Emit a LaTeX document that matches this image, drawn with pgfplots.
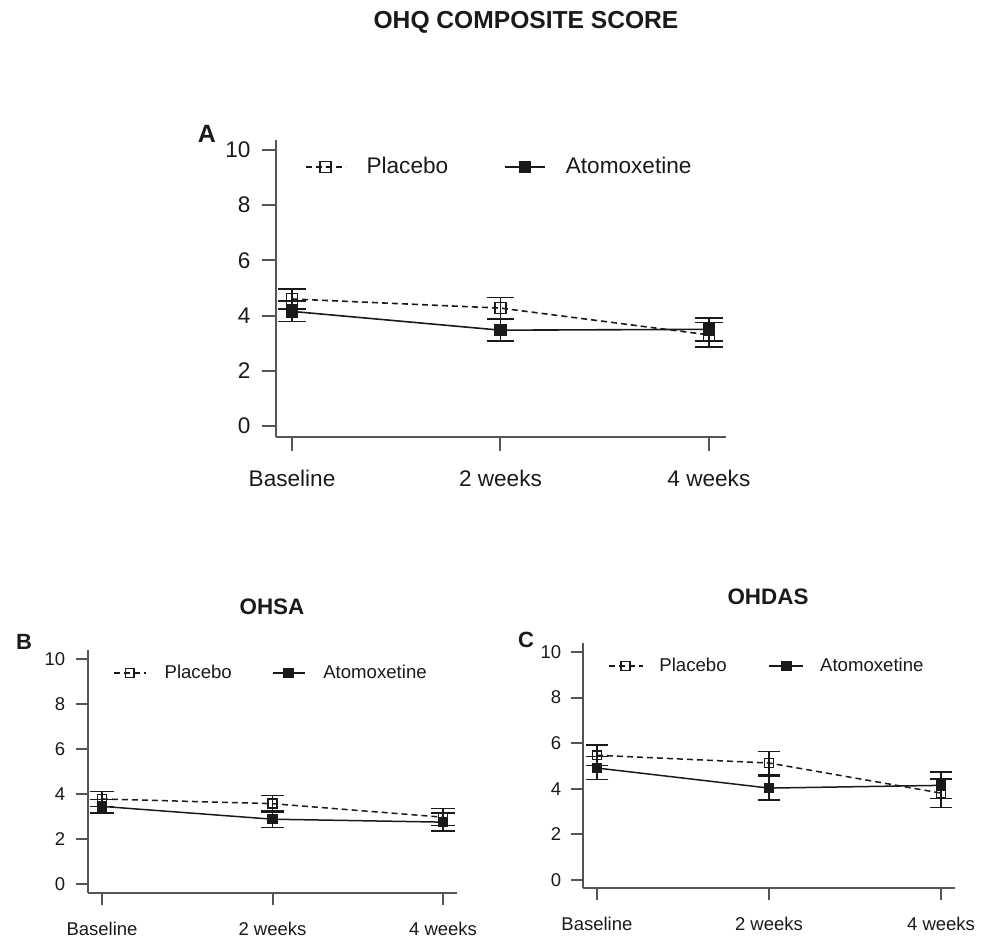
\documentclass[border=0pt]{standalone}
\usepackage{fontspec}
\setmainfont{Liberation Sans}
\usepackage{pgfplots}
\pgfplotsset{compat=1.18}
\definecolor{ink}{HTML}{1A1A1A}
\definecolor{axc}{HTML}{555555}

\pgfplotstableread{
x y e
0 4.60 0.36
1 4.27 0.38
2 3.30 0.45
}\Aplac
\pgfplotstableread{
x y e
0 4.15 0.37
1 3.47 0.40
2 3.50 0.42
}\Aatom
\pgfplotstableread{
x y e
0 3.78 0.33
1 3.57 0.36
2 2.97 0.38
}\Bplac
\pgfplotstableread{
x y e
0 3.45 0.30
1 2.88 0.36
2 2.75 0.40
}\Batom
\pgfplotstableread{
x y e
0 5.47 0.44
1 5.13 0.50
2 3.81 0.62
}\Cplac
\pgfplotstableread{
x y e
0 4.91 0.51
1 4.03 0.52
2 4.15 0.58
}\Catom

\pgfplotsset{
 rstyle/.style={
  scale only axis,
  anchor=south west,
  axis x line*=bottom, axis y line*=left,
  axis line style={axc, line width=1pt},
  tick style={axc, line width=1pt},
  tick align=outside,
  xtick={0,1,2}, xticklabels={Baseline,2 weeks,4 weeks},
  ytick={0,2,4,6,8,10},
  /pgf/number format/assume math mode=true,
  legend style={draw=none, fill=none, inner sep=0pt, outer sep=0pt, anchor=west, legend columns=2, cells={anchor=west}, text=ink},
  legend cell align=left,
  tick label style={text=ink},
 },
 plac/.style={ink, line width=0.8pt, dash pattern=on 3pt off 2pt, mark=square, mark options={solid, line width=0.8pt}},
 atom/.style={ink, line width=0.8pt, mark=square*, mark options={solid, fill=ink}},
}

\begin{document}
\begin{tikzpicture}
\path[use as bounding box] (0,0) rectangle (494.5pt,469pt);

\node[font=\bfseries\fontsize{12.3}{14}\selectfont, text=ink, inner sep=0pt] at (263pt,458pt) {OHQ COMPOSITE SCORE};
\node[font=\bfseries\fontsize{11.2}{13}\selectfont, text=ink, inner sep=0pt] at (136pt,165.5pt) {OHSA};
\node[font=\bfseries\fontsize{11.2}{13}\selectfont, text=ink, inner sep=0pt] at (384pt,170.5pt) {OHDAS};
\node[font=\bfseries\fontsize{12.5}{14}\selectfont, text=ink, inner sep=0pt] at (103.5pt,402pt) {A};
\node[font=\bfseries\fontsize{11}{13}\selectfont, text=ink, inner sep=0pt] at (12pt,148pt) {B};
\node[font=\bfseries\fontsize{11}{13}\selectfont, text=ink, inner sep=0pt] at (263pt,149pt) {C};

% Panel A
\begin{axis}[rstyle, at={(138pt,250.5pt)}, width=225pt, height=148.5pt,
  xmin=-0.077, xmax=2.082, ymin=-0.40, ymax=10.36,
  major tick length=7pt,
  tick label style={font=\fontsize{11.3}{13}\selectfont},
  yticklabel style={xshift=-2.2pt}, xticklabel style={yshift=-6.2pt},
  legend style={at={(0.0644,0.909)}, font=\fontsize{11.3}{13}\selectfont,
    /tikz/every odd column/.append style={column sep=8pt},
    /tikz/every even column/.append style={column sep=26pt}},
  legend image code/.code={\draw[mark repeat=2,mark phase=2,#1] plot coordinates {(0pt,0pt) (10pt,0pt) (20pt,0pt)};},
]
\addplot[plac, mark size=2.75pt, error bars/.cd, y dir=both, y explicit,
  error bar style={solid, line width=0.8pt}, error mark options={rotate=90, mark size=6.85pt, line width=0.8pt, solid}]
  table[x=x, y=y, y error=e] {\Aplac};
\addlegendentry{Placebo}
\addplot[atom, mark size=2.75pt, error bars/.cd, y dir=both, y explicit,
  error bar style={solid, line width=0.8pt}, error mark options={rotate=90, mark size=6.85pt, line width=0.8pt, solid}]
  table[x=x, y=y, y error=e] {\Aatom};
\addlegendentry{Atomoxetine}
\end{axis}

% Panel B
\begin{axis}[rstyle, at={(44pt,22.5pt)}, width=184.5pt, height=121.5pt,
  xmin=-0.082, xmax=2.082, ymin=-0.40, ymax=10.40,
  major tick length=6pt,
  tick label style={font=\fontsize{9.25}{11}\selectfont},
  yticklabel style={xshift=-1.9pt}, xticklabel style={yshift=-5.2pt},
  legend style={at={(0.068,0.905)}, font=\fontsize{9.3}{11}\selectfont,
    /tikz/every odd column/.append style={column sep=7pt},
    /tikz/every even column/.append style={column sep=18pt}},
  legend image code/.code={\draw[mark repeat=2,mark phase=2,#1] plot coordinates {(0pt,0pt) (8pt,0pt) (16pt,0pt)};},
]
\addplot[plac, line width=0.75pt, mark size=2.2pt, error bars/.cd, y dir=both, y explicit,
  error bar style={solid, line width=0.75pt}, error mark options={rotate=90, mark size=5.8pt, line width=0.75pt, solid}]
  table[x=x, y=y, y error=e] {\Bplac};
\addlegendentry{Placebo}
\addplot[atom, line width=0.75pt, mark size=2.2pt, error bars/.cd, y dir=both, y explicit,
  error bar style={solid, line width=0.75pt}, error mark options={rotate=90, mark size=5.8pt, line width=0.75pt, solid}]
  table[x=x, y=y, y error=e] {\Batom};
\addlegendentry{Atomoxetine}
\end{axis}

% Panel C
\begin{axis}[rstyle, at={(291.5pt,25pt)}, width=186pt, height=122.5pt,
  xmin=-0.081, xmax=2.081, ymin=-0.35, ymax=10.39,
  major tick length=6pt,
  tick label style={font=\fontsize{9.25}{11}\selectfont},
  yticklabel style={xshift=-1.4pt}, xticklabel style={yshift=-5pt},
  legend style={at={(0.067,0.906)}, font=\fontsize{9.3}{11}\selectfont,
    /tikz/every odd column/.append style={column sep=6pt},
    /tikz/every even column/.append style={column sep=19pt}},
  legend image code/.code={\draw[mark repeat=2,mark phase=2,#1] plot coordinates {(0pt,0pt) (8.5pt,0pt) (17pt,0pt)};},
]
\addplot[plac, line width=0.75pt, mark size=2.2pt, error bars/.cd, y dir=both, y explicit,
  error bar style={solid, line width=0.75pt}, error mark options={rotate=90, mark size=5.6pt, line width=0.75pt, solid}]
  table[x=x, y=y, y error=e] {\Cplac};
\addlegendentry{Placebo}
\addplot[atom, line width=0.75pt, mark size=2.2pt, error bars/.cd, y dir=both, y explicit,
  error bar style={solid, line width=0.75pt}, error mark options={rotate=90, mark size=5.6pt, line width=0.75pt, solid}]
  table[x=x, y=y, y error=e] {\Catom};
\addlegendentry{Atomoxetine}
\end{axis}
\end{tikzpicture}
\end{document}
